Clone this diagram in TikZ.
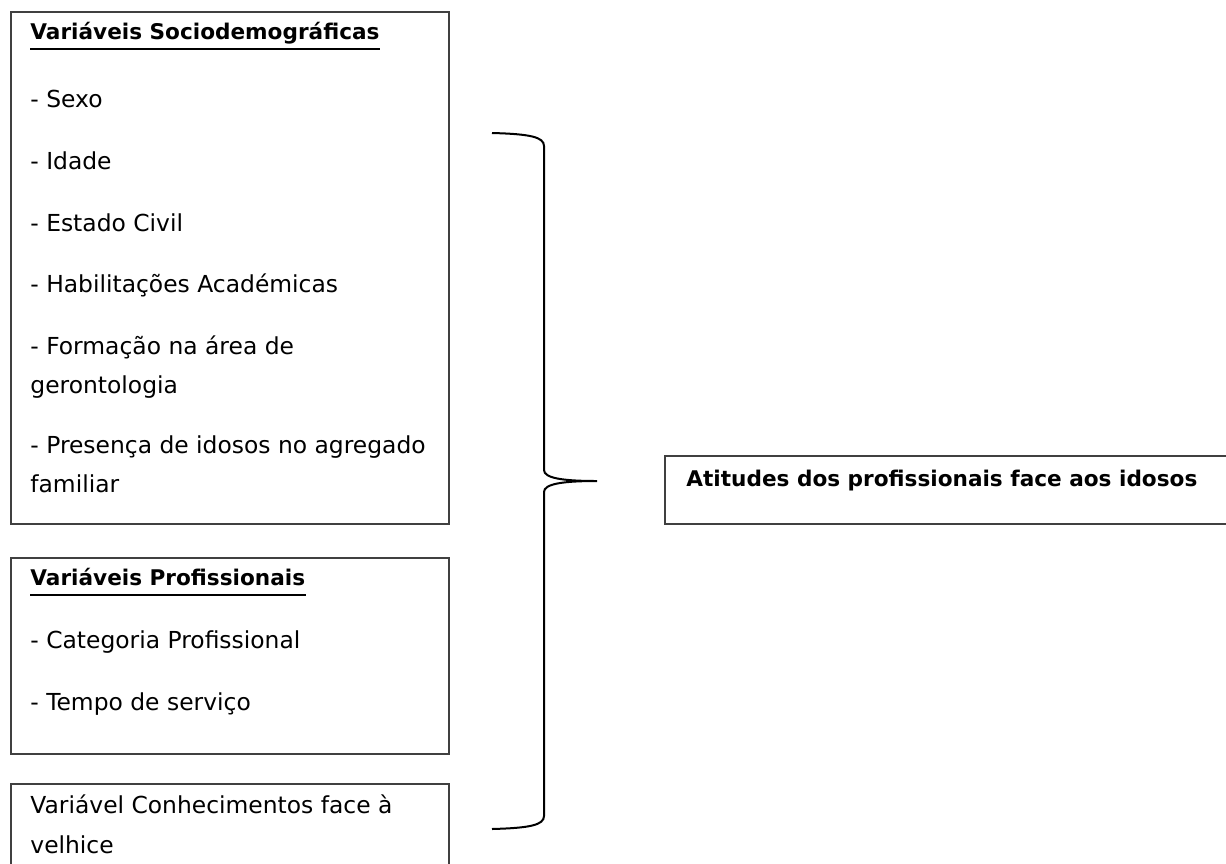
\documentclass[tikz,border=0pt]{standalone}
\usepackage{fontspec}
\setmainfont{DejaVu Sans}
\usepackage{tikz}

\begin{document}
\begin{tikzpicture}[x=0.5pt, y=-0.5pt,
  box/.style={draw=black!75, line width=0.75pt, anchor=north west, inner sep=0pt},
  txt/.style={anchor=base west, inner sep=0pt, font=\fontsize{11.7}{14}\selectfont},
  hdr/.style={txt, font=\fontsize{10.8}{13}\selectfont\bfseries},
  uline/.style={line width=1pt}]
\useasboundingbox (0,0) rectangle (1226,863);
\clip (0,0) rectangle (1226,863);
\node[box, minimum width=219pt, minimum height=256pt] (socio) at (10,11) {};
\node[box, minimum width=219pt, minimum height=98pt] (prof) at (10,557) {};
\node[box, minimum width=219pt, minimum height=70pt] (conhec) at (10,783) {};
\node[box, minimum width=290pt, minimum height=34pt] (atitudes) at (664,455) {};
\node[hdr] (sociohdr) at (30,39) {Variáveis Sociodemográficas};
\draw[uline] ([yshift=-5pt]sociohdr.base west) -- ([yshift=-5pt]sociohdr.base east);
\node[txt] (sexo) at (30,107) {- Sexo};
\node[txt] (idade) at (30,169) {- Idade};
\node[txt] (civil) at (30,231) {- Estado Civil};
\node[txt] (habil) at (30,292) {- Habilitações Académicas};
\node[txt] (formacao) at (30,354) {- Formação na área de};
\node[txt] (geronto) at (30,393) {gerontologia};
\node[txt] (presenca) at (30,453) {- Presença de idosos no agregado};
\node[txt] (familiar) at (30,492) {familiar};
\node[hdr] (profhdr) at (30,585) {Variáveis Profissionais};
\draw[uline] ([yshift=-5pt]profhdr.base west) -- ([yshift=-5pt]profhdr.base east);
\node[txt] (categoria) at (30,648) {- Categoria Profissional};
\node[txt] (tempo) at (30,710) {- Tempo de serviço};
\node[txt] (conhectxt) at (30,813) {Variável Conhecimentos face à};
\node[txt] (velhice) at (30,853) {velhice};
\node[hdr] (atitudestxt) at (686,486) {Atitudes dos profissionais face aos idosos};
\coordinate (braceTop) at (492,133);
\coordinate (braceTip) at (597,481);
\coordinate (braceBot) at (492,829);
\draw[line width=1pt] (braceTop) .. controls (530,134) and (544,137) .. (544,146) -- (544,470)
  .. controls (544,478) and (562,481) .. (braceTip)
  .. controls (562,481) and (544,484) .. (544,492) -- (544,816)
  .. controls (544,825) and (530,828) .. (braceBot);
\end{tikzpicture}
\end{document}
